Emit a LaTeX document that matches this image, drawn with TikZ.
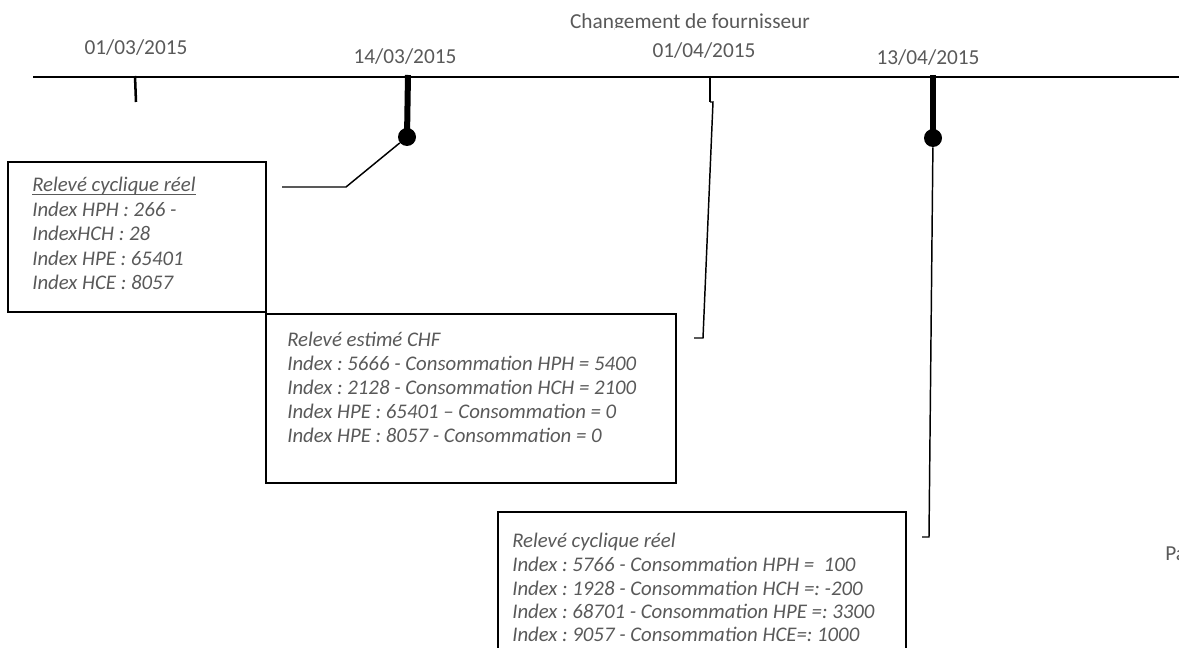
\documentclass[tikz,border=0pt]{standalone}
\usepackage{fontspec}
\setmainfont{Carlito}
\definecolor{txt}{HTML}{595959}
\frenchspacing
\begin{document}
\begin{tikzpicture}[x=0.75pt,y=-0.75pt,
  datelbl/.style={font=\fontsize{16}{19}\selectfont, text=txt, inner sep=0},
  boxline/.style={font=\fontsize{15.6}{18}\selectfont\itshape, text=txt, anchor=base west, inner sep=0},
  box/.style={draw, line width=1.5pt, rectangle, inner sep=0},
  dot/.style={circle, fill=black, minimum size=13.5pt, inner sep=0},
  axis/.style={line width=1.5pt},
  thintick/.style={line width=1.9pt},
  thicktick/.style={line width=4.5pt},
  conn/.style={line width=1.1pt},
  uline/.style={draw=txt, line width=0.7pt}]
\useasboundingbox (0,0) rectangle (1179,648);
\begin{scope}
\clip (0,0) rectangle (1179,648);
% timeline
\coordinate (L) at (33,77);
\coordinate (R) at (1179,77);
\draw[axis] (L) -- (R);
% ticks
\coordinate (t1) at (135,76);
\coordinate (t1b) at (136,102);
\draw[thintick] (t1) -- (t1b);
\node[dot] (dot1) at (407,137) {};
\coordinate (t2) at (408,75);
\draw[thicktick] (t2) -- (dot1.center);
\coordinate (t3) at (710,76);
\coordinate (t3b) at (710,102);
\draw[thintick] (t3) -- (t3b);
\node[dot] (dot2) at (933,138) {};
\coordinate (t4) at (933,75);
\draw[thicktick] (t4) -- (dot2.center);
% labels
\node[datelbl] (d1) at (136,48) {01/03/2015};
\node[datelbl] (d2) at (405,57) {14/03/2015};
\node[datelbl] (chg) at (690,23) {Changement de fournisseur};
\fill[white] (615,28) rectangle (793,36);
\node[datelbl] (d3) at (704,51) {01/04/2015};
\node[datelbl] (d4) at (928,58) {13/04/2015};
\node[datelbl, anchor=base west] (pa) at (1165,561) {Pa};
% boxes
\node[box, minimum width=193.5pt, minimum height=112.5pt] (b1) at (137,237.5) {};
\node[box, minimum width=307.5pt, minimum height=126.75pt] (b2) at (471,398.5) {};
\node[box, minimum width=306pt, minimum height=111pt] (b3) at (702,586) {};
% box 1 text
\node[boxline] (b1l1) at (32,192) {Relevé cyclique réel};
\draw[uline] ([yshift=-1.8pt]b1l1.base west) -- ([yshift=-1.8pt]b1l1.base east);
\node[boxline] (b1l2) at (32,216.5) {Index HPH : 266 -};
\node[boxline] (b1l3) at (32,241) {IndexHCH : 28};
\node[boxline] (b1l4) at (32,265.5) {Index HPE : 65401};
\node[boxline] (b1l5) at (32,290) {Index HCE : 8057};
% box 2 text
\node[boxline] (b2l1) at (287,347) {Relevé estimé CHF};
\node[boxline] (b2l2) at (287,371) {Index : 5666 - Consommation HPH = 5400};
\node[boxline] (b2l3) at (287,395) {Index : 2128 - Consommation HCH = 2100};
\node[boxline] (b2l4) at (287,419) {Index HPE : 65401 -- Consommation = 0};
\node[boxline] (b2l5) at (287,443) {Index HPE : 8057 - Consommation = 0};
% box 3 text
\node[boxline] (b3l1) at (512,548) {Relevé cyclique réel};
\node[boxline] (b3l2) at (512,571.5) {Index : 5766 - Consommation HPH = \ 100};
\node[boxline] (b3l3) at (512,595) {Index : 1928 - Consommation HCH =: -200};
\node[boxline] (b3l4) at (512,618.5) {Index : 68701 - Consommation HPE =: 3300};
\node[boxline] (b3l5) at (512,642) {Index : 9057 - Consommation HCE=: 1000};
% connectors
\coordinate (c1a) at (346,187);
\coordinate (c1b) at (282,187);
\draw[conn] (dot1) -- (c1a) -- (c1b);
\coordinate (c2a) at (713,102);
\coordinate (c2b) at (703,338);
\coordinate (c2c) at (694,338);
\draw[conn] (t3b) -- (c2a) -- (c2b) -- (c2c);
\coordinate (c3a) at (929,537);
\coordinate (c3b) at (922,537);
\draw[conn] (dot2) -- (c3a) -- (c3b);
\end{scope}
\end{tikzpicture}
\end{document}
